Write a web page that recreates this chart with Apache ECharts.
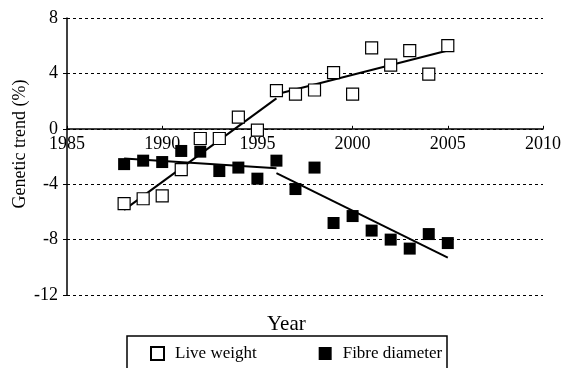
<!DOCTYPE html>
<html>
<head>
<meta charset="utf-8">
<script src="https://cdn.jsdelivr.net/npm/echarts@6/dist/echarts.min.js"></script>
<style>
html, body { margin: 0; padding: 0; background: #fff; }
#chart { width: 563px; height: 368px; }
</style>
</head>
<body>
<div id="chart"></div>
<script>
var years = [1988, 1989, 1990, 1991, 1992, 1993, 1994, 1995, 1996, 1997, 1998, 1999, 2000, 2001, 2002, 2003, 2004, 2005];
var liveWeight = [-5.4, -5.05, -4.85, -2.95, -0.7, -0.7, 0.85, -0.1, 2.75, 2.5, 2.8, 4.05, 2.5, 5.85, 4.6, 5.65, 3.95, 6.0];
var fibreDiameter = [-2.55, -2.3, -2.4, -1.6, -1.65, -3.05, -2.8, -3.6, -2.3, -4.35, -2.8, -6.8, -6.3, -7.35, -8.0, -8.65, -7.6, -8.25];
// trend line end points [year, value]
var lwTrend1 = [[1988, -5.85], [1996, 2.2]];
var lwTrend2 = [[1996, 2.5], [2005, 5.65]];
var fdTrend1 = [[1988, -2.15], [1996, -2.85]];
var fdTrend2 = [[1996, -3.2], [2005, -9.3]];
var yTicks = [-12, -8, -4, 0, 4, 8];

function pairs(xs, ys) {
	return xs.map(function (x, i) { return [x, ys[i]]; });
}

var font = 'Liberation Serif';
var myChart = echarts.init(document.getElementById('chart'));

function trend(data) {
	return {
		type: 'line',
		data: data,
		symbol: 'none',
		silent: true,
		z: 1,
		lineStyle: { color: '#000', width: 2 }
	};
}

var option = {
	animation: false,
	textStyle: { fontFamily: font, color: '#000' },
	// grid 1 only carries the year labels under the zero line
	grid: [
		{ left: 67, right: 20, top: 18, bottom: 73, outerBoundsMode: 'none', containLabel: false },
		{ left: 67, right: 20, top: 18, bottom: 239, outerBoundsMode: 'none', containLabel: false }
	],
	title: {
		text: 'Year',
		left: 262,
		top: 309,
		textStyle: { fontFamily: font, fontSize: 21, fontWeight: 'normal', color: '#000' }
	},
	legend: {
		left: 145,
		top: 340,
		itemWidth: 13,
		itemHeight: 13,
		itemGap: 62,
		data: ['Live weight', 'Fibre diameter'],
		textStyle: { fontFamily: font, fontSize: 17, color: '#000', padding: [0, 0, 0, 6] }
	},
	graphic: [{
		type: 'rect',
		shape: { x: 127, y: 336, width: 320, height: 40 },
		style: { fill: 'none', stroke: '#000', lineWidth: 1.5 },
		z: -1
	}, {
		type: 'text',
		x: 20,
		y: 144,
		rotation: Math.PI / 2,
		style: {
			text: 'Genetic trend (%)',
			font: '18px "Liberation Serif"',
			fill: '#000',
			align: 'center',
			verticalAlign: 'middle'
		}
	}],
	xAxis: [{
		type: 'value',
		gridIndex: 0,
		min: 1985,
		max: 2010,
		interval: 5,
		axisLine: { onZero: true, lineStyle: { color: '#000', width: 1.5 } },
		axisTick: { show: true, inside: true, length: 3, lineStyle: { color: '#000' } },
		axisLabel: { show: false },
		splitLine: { show: false }
	}, {
		type: 'value',
		gridIndex: 1,
		min: 1985,
		max: 2010,
		interval: 5,
		axisLine: { show: false },
		axisTick: { show: false },
		axisLabel: {
			fontFamily: font, fontSize: 18, color: '#000', margin: 6,
			formatter: function (v) { return String(v); }
		},
		splitLine: { show: false }
	}],
	yAxis: [{
		type: 'value',
		gridIndex: 0,
		min: yTicks[0],
		max: yTicks[yTicks.length - 1],
		interval: 4,
		axisLine: { show: true, onZero: false, lineStyle: { color: '#000', width: 1.5 } },
		axisTick: { show: true, length: 4, lineStyle: { color: '#000' } },
		axisLabel: { fontFamily: font, fontSize: 18, color: '#000', margin: 9 },
		splitLine: { show: true, lineStyle: { color: '#000', type: [3, 3], width: 1 } }
	}, {
		type: 'value',
		gridIndex: 1,
		min: 0,
		max: 8,
		show: false
	}],
	series: [
		trend(lwTrend1),
		trend(lwTrend2),
		trend(fdTrend1),
		trend(fdTrend2),
		{
			name: 'Live weight',
			type: 'scatter',
			symbol: 'rect',
			symbolSize: 12,
			z: 3,
			data: pairs(years, liveWeight),
			itemStyle: { color: '#fff', borderColor: '#000', borderWidth: 1.2, opacity: 1 }
		},
		{
			name: 'Fibre diameter',
			type: 'scatter',
			symbol: 'rect',
			symbolSize: 12,
			z: 3,
			data: pairs(years, fibreDiameter),
			itemStyle: { color: '#000', opacity: 1 }
		}
	]
};
myChart.setOption(option);
</script>
</body>
</html>
